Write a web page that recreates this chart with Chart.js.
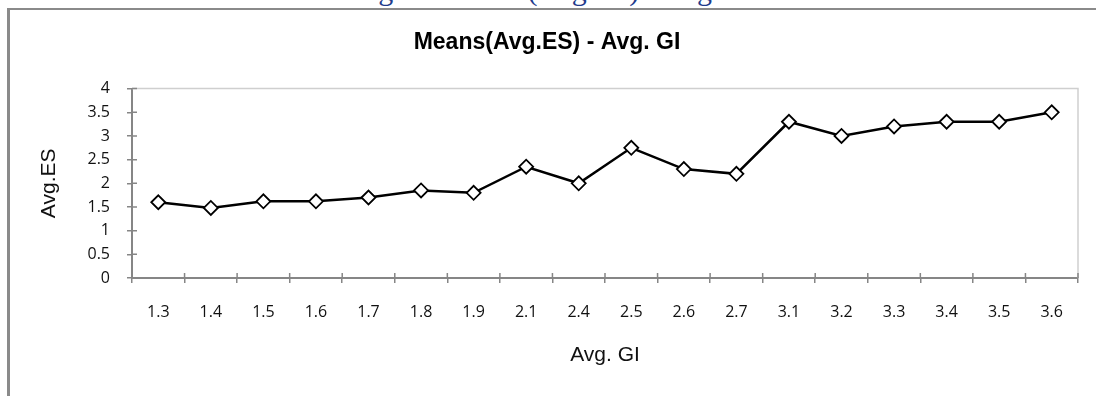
<!DOCTYPE html>
<html>
<head>
<meta charset="utf-8">
<script src="https://cdn.jsdelivr.net/npm/chart.js@4.4.1/dist/chart.umd.min.js"></script>
<style>
  body { margin: 0; background: #fff; overflow: hidden; }
  #page { position: relative; width: 1096px; height: 396px; overflow: hidden; }
  #caption {
    position: absolute; left: 0; width: 1112px; top: -25px;
    text-align: center; font: 30px/30px "Liberation Serif", serif; color: #1f3b8c;
    white-space: nowrap;
  }
  #frame {
    position: absolute; left: 7px; top: 8px; width: 1200px; height: 500px;
    border-left: 3px solid #8a8a8a; border-top: 2px solid #8a8a8a; z-index: 2;
  }
  #holder { position: absolute; left: 0; top: 0; width: 1096px; height: 396px; z-index: 3; }
</style>
</head>
<body>
<div id="page">
  <div id="caption">Figure: Means(Avg.ES) - Avg. GI</div>
  <div id="frame"></div>
  <div id="holder"><canvas id="meansChart" width="1096" height="396"></canvas></div>
</div>
<script>
const giLabels = ["1.3", "1.4", "1.5", "1.6", "1.7", "1.8", "1.9", "2.1", "2.4", "2.5", "2.6", "2.7", "3.1", "3.2", "3.3", "3.4", "3.5", "3.6"];
const avgES = [1.6, 1.48, 1.62, 1.62, 1.7, 1.85, 1.8, 2.35, 2.0, 2.75, 2.3, 2.2, 3.3, 3.0, 3.2, 3.3, 3.3, 3.5];
const chartTitle = "Means(Avg.ES) - Avg. GI";
const xTitle = "Avg. GI";
const yTitle = "Avg.ES";

const axisGray = "#868686";

// light frame on top/right of plot + ticks that cross the axes
const plotExtras = {
  id: "plotExtras",
  beforeDatasetsDraw(chart) {
    const { ctx, chartArea } = chart;
    const x = chart.scales.x;
    const y = chart.scales.y;
    ctx.save();
    ctx.strokeStyle = "#cfcfcf";
    ctx.lineWidth = 1.5;
    ctx.beginPath();
    ctx.moveTo(chartArea.left, chartArea.top);
    ctx.lineTo(chartArea.right, chartArea.top);
    ctx.lineTo(chartArea.right, chartArea.bottom);
    ctx.stroke();

    ctx.strokeStyle = axisGray;
    ctx.lineWidth = 1.5;
    ctx.beginPath();
    y.ticks.forEach((t, i) => {
      const py = y.getPixelForTick(i);
      ctx.moveTo(chartArea.left, py);
      ctx.lineTo(chartArea.left + 5, py);
    });
    const step = x.getPixelForTick(1) - x.getPixelForTick(0);
    for (let i = 0; i <= giLabels.length; i++) {
      const px = x.getPixelForTick(0) - step / 2 + i * step;
      ctx.moveTo(px, chartArea.bottom);
      ctx.lineTo(px, chartArea.bottom - 5);
    }
    ctx.stroke();
    ctx.restore();
  }
};

const ctx = document.getElementById("meansChart").getContext("2d");
new Chart(ctx, {
  type: "line",
  data: {
    labels: giLabels,
    datasets: [
      {
        label: yTitle,
        data: avgES,
        borderColor: "#000",
        borderWidth: 2.5,
        tension: 0,
        pointStyle: "rectRot",
        pointRadius: 7,
        pointHoverRadius: 7,
        pointBackgroundColor: "#fff",
        pointBorderColor: "#000",
        pointBorderWidth: 1.8,
      },
    ],
  },
  options: {
    responsive: false,
    animation: false,
    layout: { padding: { left: 16, right: 18, top: 0, bottom: 0 } },
    plugins: {
      legend: { display: false },
      tooltip: { enabled: false },
      title: {
        display: true,
        text: chartTitle,
        color: "#000",
        font: { family: "Liberation Sans, Arial", size: 23, weight: "bold" },
        padding: { top: 29, bottom: 32 },
      },
    },
    scales: {
      x: {
        offset: true,
        grid: {
          offset: true,
          drawOnChartArea: false,
          color: axisGray,
          lineWidth: 1.5,
          tickLength: 5,
        },
        border: { color: axisGray, width: 2 },
        ticks: {
          color: "#111",
          font: { family: "Open Sans", size: 16 },
          padding: 20,
          maxRotation: 0,
          autoSkip: false,
        },
        title: {
          display: true,
          text: xTitle,
          color: "#111",
          font: { family: "Liberation Sans, Arial", size: 21 },
          padding: { top: 0, bottom: 28 },
        },
        afterFit(scale) {
          scale.height = 118;
        },
      },
      y: {
        min: 0,
        max: 4,
        grid: {
          drawOnChartArea: false,
          color: axisGray,
          lineWidth: 1.5,
          tickLength: 5,
        },
        border: { color: axisGray, width: 2 },
        ticks: {
          stepSize: 0.5,
          color: "#111",
          font: { family: "Open Sans", size: 16 },
          padding: 17,
          callback: (v) => String(v),
        },
        title: {
          display: true,
          text: yTitle,
          color: "#111",
          font: { family: "Liberation Sans, Arial", size: 21 },
          padding: { top: 21, bottom: 0 },
        },
        afterFit(scale) {
          scale.width = 116;
        },
      },
    },
  },
  plugins: [plotExtras],
});
</script>
</body>
</html>
